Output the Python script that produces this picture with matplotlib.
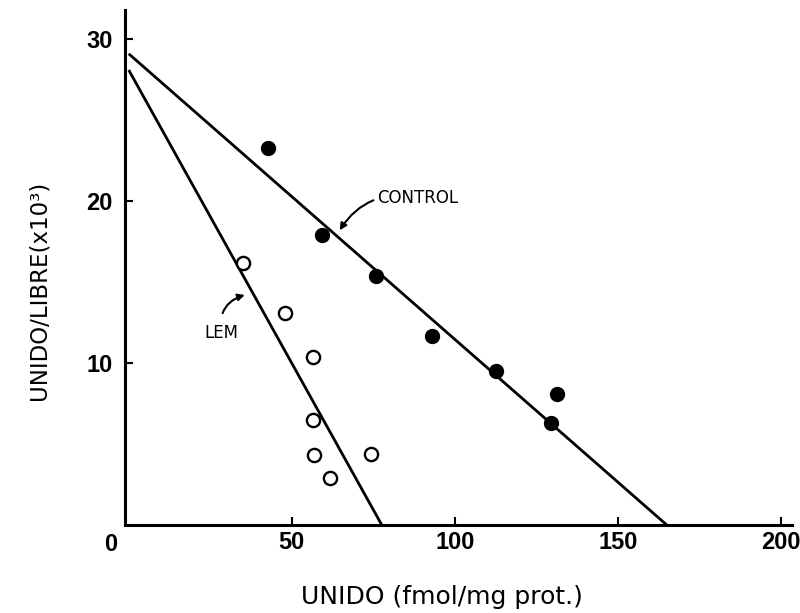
import matplotlib
matplotlib.use("Agg")
import matplotlib.pyplot as plt

# Scatchard data: bound (fmol/mg prot.) vs bound/free (x10^3)
control_x = [42.6, 59.2, 75.8, 93.0, 112.6, 131.3, 129.4]
control_y = [23.3, 17.9, 15.4, 11.7, 9.5, 8.1, 6.3]
lem_x = [35.0, 47.9, 56.5, 56.5, 56.9, 61.7, 74.2]
lem_y = [16.2, 13.1, 10.4, 6.5, 4.3, 2.9, 4.4]

# fitted lines: (y intercept, x intercept)
control_fit = (29.1, 165.0)
lem_fit = (28.1, 77.6)

x_ticks = [50, 100, 150, 200]
y_ticks = [10, 20, 30]

tick_font = dict(family=["Liberation Sans", "DejaVu Sans"], weight="bold", size=17)

fig = plt.figure(figsize=(8, 6.13), dpi=100)
ax = fig.add_axes([0.156, 0.1436, 0.834, 0.840])

ax.plot([0, control_fit[1]], [control_fit[0], 0], color="black", lw=2.0, solid_capstyle="butt")
ax.plot([0, lem_fit[1]], [lem_fit[0], 0], color="black", lw=2.0, solid_capstyle="butt")

ax.plot(control_x, control_y, "o", color="black", ms=10, zorder=3)
ax.plot(lem_x, lem_y, "o", mfc="white", mec="black", mew=1.7, ms=9.5, zorder=3)

ax.annotate("CONTROL", xy=(64.7, 18.2), xytext=(76.3, 20.2), fontsize=12,
            va="center", ha="left",
            arrowprops=dict(arrowstyle="-|>", color="black", lw=1.5,
                            shrinkA=1, shrinkB=0, mutation_scale=10,
                            connectionstyle="arc3,rad=0.35"))
ax.annotate("LEM", xy=(35.6, 14.2), xytext=(23.3, 11.85), fontsize=12,
            va="center", ha="left",
            arrowprops=dict(arrowstyle="-|>", color="black", lw=1.5,
                            shrinkA=6, shrinkB=0, mutation_scale=10,
                            connectionstyle="arc3,rad=-0.45"))

ax.set_xlim(-1.2, 203.4)
ax.set_ylim(0, 31.8)
ax.set_xticks(x_ticks)
ax.set_yticks(y_ticks)
ax.set_xticklabels([str(t) for t in x_ticks], fontdict=tick_font)
ax.set_yticklabels([str(t) for t in y_ticks], fontdict=tick_font)
ax.tick_params(direction="in", length=6, width=1.5, pad=4)
ax.tick_params(axis="y", pad=9)
ax.text(-3.5, -0.5, "0", fontdict=tick_font, ha="right", va="top")

for side in ["top", "right"]:
    ax.spines[side].set_visible(False)
for side in ["left", "bottom"]:
    ax.spines[side].set_linewidth(2.2)

fig.text(0.553, 0.026, "UNIDO (fmol/mg prot.)", fontsize=18, ha="center", va="center")
fig.text(0.049, 0.527, "UNIDO/LIBRE(x10³)", fontsize=16.5, ha="center", va="center",
         rotation=90)

fig.savefig("out.png", dpi=100)
